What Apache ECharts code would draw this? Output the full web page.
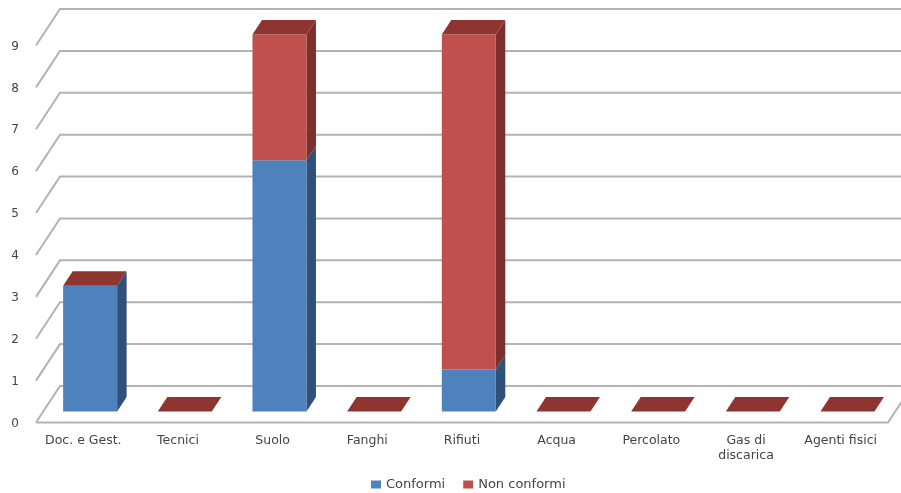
<!DOCTYPE html>
<html>
<head>
<meta charset="utf-8">
<style>html,body{margin:0;padding:0;background:#fff}#c{width:901px;height:493px}</style>
<script src="https://cdn.jsdelivr.net/npm/echarts@6/dist/echarts.min.js"></script>
</head>
<body>
<div id="c"></div>
<script>
const categories = ['Doc. e Gest.', 'Tecnici', 'Suolo', 'Fanghi', 'Rifiuti', 'Acqua', 'Percolato', 'Gas di\ndiscarica', 'Agenti fisici'];
const conformi = [3, 0, 6, 0, 1, 0, 0, 0, 0];
const nonConformi = [0, 0, 3, 0, 8, 0, 0, 0, 0];
const yTicks = [0, 1, 2, 3, 4, 5, 6, 7, 8, 9];

const wallDx = 24, wallDy = -36.5;
const barOffX = 6.8, barOffY = -11, barW = 54, barDx = 9.5, barDy = -14.5;
const GRID = '#b3b3b3';
const FONT = 'DejaVu Sans';

function poly(points, fill) {
  return { type: 'polygon', shape: { points }, style: { fill, stroke: null } };
}
function renderWall(params, api) {
  const v = api.value(0);
  const a = api.coord([0, v]);
  const b = api.coord([categories.length - 1, v]);
  const half = api.size([1, 0])[0] / 2;
  const xl = a[0] - half, xr = b[0] + half, y = a[1];
  const lines = [[[xl, y], [xl + wallDx, y + wallDy], [xr + wallDx, y + wallDy]]];
  if (v === 0) lines.push([[xl, y], [xr, y], [xr + wallDx, y + wallDy]]);
  return {
    type: 'group',
    children: lines.map(points => ({
      type: 'polyline', shape: { points },
      style: { stroke: GRID, lineWidth: 2, fill: null }
    }))
  };
}
function makeBar(front, side, top) {
  return function (params, api) {
    const i = api.value(0), s = api.value(1), e = api.value(2);
    const pb = api.coord([i, s]), pt = api.coord([i, e]);
    const l = pb[0] + barOffX - barW / 2, r = l + barW;
    const yb = pb[1] + barOffY, yt = pt[1] + barOffY;
    const kids = [];
    if (e > s) {
      kids.push(poly([[r, yb], [r + barDx, yb + barDy], [r + barDx, yt + barDy], [r, yt]], side));
      kids.push(poly([[l, yb], [r, yb], [r, yt], [l, yt]], front));
    }
    if (top) {
      kids.push(poly([[l, yt], [r, yt], [r + barDx, yt + barDy], [l + barDx, yt + barDy]], top));
    }
    return { type: 'group', children: kids };
  };
}
const blueData = conformi.map((v, i) => [i, 0, v]);
const redData = nonConformi.map((v, i) => [i, conformi[i], conformi[i] + v]);

const chart = echarts.init(document.getElementById('c'), null, { renderer: 'canvas' });
chart.setOption({
  animation: false,
  backgroundColor: '#fff',
  textStyle: { fontFamily: FONT },
  grid: { left: 36, right: 13, top: 45.5, height: 377 },
  xAxis: {
    type: 'category', data: categories,
    axisLine: { show: false }, axisTick: { show: false },
    axisLabel: { color: '#444', fontFamily: FONT, fontSize: 12.5, margin: 11, lineHeight: 15, interval: 0 }
  },
  yAxis: {
    type: 'value', min: 0, max: 9, interval: 1,
    axisLine: { show: false }, axisTick: { show: false }, splitLine: { show: false },
    axisLabel: { color: '#444', fontFamily: FONT, fontSize: 12, margin: 17, verticalAlign: 'top', lineHeight: 2 }
  },
  legend: {
    data: ['Conformi', 'Non conformi'], top: 478, left: 371, padding: 0,
    itemWidth: 10, itemHeight: 8, itemGap: 18,
    icon: 'rect',
    textStyle: { color: '#444', fontSize: 13, fontFamily: FONT }
  },
  series: [
    {
      type: 'custom', name: 'wall', data: yTicks.map(v => [v]), renderItem: renderWall,
      encode: { y: 0 }, silent: true, z: 1, clip: false
    },
    {
      type: 'custom', name: 'Conformi', data: blueData,
      renderItem: makeBar('#4f81bd', '#2f5179', null),
      encode: { x: 0, y: [1, 2] }, itemStyle: { color: '#4f81bd' }, z: 2, clip: false
    },
    {
      type: 'custom', name: 'Non conformi', data: redData,
      renderItem: makeBar('#c0504d', '#7d2f2d', '#8e3532'),
      encode: { x: 0, y: [1, 2] }, itemStyle: { color: '#c0504d' }, z: 3, clip: false
    }
  ]
});
</script>
</body>
</html>
